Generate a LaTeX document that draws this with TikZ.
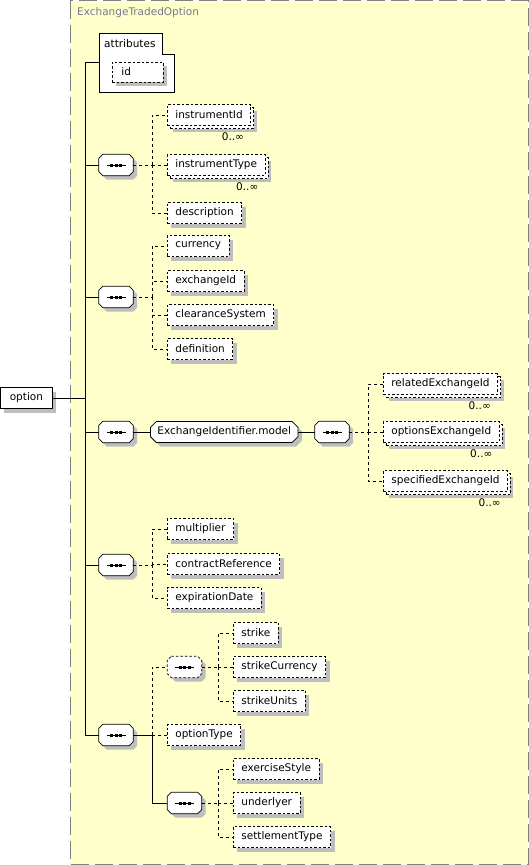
\documentclass[tikz,border=0pt]{standalone}
\usepackage{fontspec}
\setmainfont{DejaVu Sans}
\usetikzlibrary{shapes.misc, shadows, positioning}
\definecolor{bgyellow}{RGB}{255,255,204}
\definecolor{framegray}{RGB}{128,128,128}
\definecolor{titlegray}{RGB}{120,120,140}
\definecolor{shadowgray}{RGB}{190,190,190}

% sequence compositor drawn on an (invisible) seqbox node
\newcommand{\seqdraw}[2][solid]{%
  \fill[shadowgray] ([xshift=8pt,yshift=-4pt]#2.north west) -- ([xshift=0pt,yshift=-4pt]#2.north east)
    -- ([xshift=4pt,yshift=-8pt]#2.north east) -- ([xshift=4pt,yshift=0pt]#2.south east)
    -- ([xshift=0pt,yshift=-4pt]#2.south east) -- ([xshift=8pt,yshift=-4pt]#2.south west)
    -- ([xshift=4pt,yshift=0pt]#2.south west) -- ([xshift=4pt,yshift=-8pt]#2.north west) -- cycle;
  \draw[line width=0.8pt, fill=white, #1] ([xshift=4pt]#2.north west) -- ([xshift=-4pt]#2.north east)
    -- ([yshift=-4pt]#2.north east) -- ([yshift=4pt]#2.south east)
    -- ([xshift=-4pt]#2.south east) -- ([xshift=4pt]#2.south west)
    -- ([yshift=4pt]#2.south west) -- ([yshift=-4pt]#2.north west) -- cycle;
  \draw[line width=1pt] ([xshift=-9.5pt]#2.center) -- ([xshift=9.5pt]#2.center);
  \foreach \d in {-4.5,0,4.5}
    \fill ([xshift=\d pt]#2.center) +(-1.5,-1.5) rectangle +(1.5,1.5);
}

\begin{document}
\begin{tikzpicture}[x=1pt, y=-1pt,
  font=\fontsize{10.5}{12}\selectfont,
  frame/.style={draw=framegray, line width=1pt, dash pattern=on 18pt off 6pt, fill=bgyellow},
  elem/.style={draw, line width=0.8pt, dash pattern=on 2.5pt off 2pt, fill=white, minimum height=21pt, inner xsep=8pt, anchor=west,
    drop shadow={shadow xshift=4pt, shadow yshift=-4pt, fill=shadowgray, opacity=1}},
  elemrep/.style={draw, line width=0.8pt, dash pattern=on 2.5pt off 2pt, fill=white, minimum height=21pt, inner xsep=8pt, anchor=west,
    drop shadow={shadow xshift=6pt, shadow yshift=-6pt, fill=shadowgray, opacity=1},
    copy shadow={shadow xshift=3pt, shadow yshift=-3pt, draw, line width=0.8pt, dash pattern=on 2.5pt off 2pt, fill=white}},
  plain/.style={draw, line width=0.8pt, fill=white, minimum height=21pt, anchor=west,
    drop shadow={shadow xshift=4pt, shadow yshift=-4pt, fill=shadowgray, opacity=1}},
  seqbox/.style={rectangle, minimum width=34pt, minimum height=21pt, inner sep=0pt},
  grp/.style={shape=chamfered rectangle, chamfered rectangle sep=3pt,
    draw, line width=0.8pt, fill=white, inner ysep=2.5pt, inner xsep=4pt, anchor=west,
    drop shadow={shadow xshift=4pt, shadow yshift=-4pt, fill=shadowgray, opacity=1}},
  occ/.style={anchor=north east, inner sep=1pt},
  con/.style={line width=1pt},
  dcon/.style={line width=1pt, dash pattern=on 3pt off 3pt}]

  \useasboundingbox (0,0) rectangle (529,865);

  % type frame
  \draw[frame] (70,0.5) rectangle (528,864);
  \node[anchor=west, inner sep=0pt, text=titlegray] (title) at (77,13) {ExchangeTradedOption};

  % attributes
  \node[inner sep=0pt, anchor=north west, minimum width=75pt, minimum height=59pt] (attr) at (99,33) {};
  \draw[line width=0.8pt, fill=white] (attr.north west) -- ++(63,0) -- ++(0,21) -- ([yshift=-21pt]attr.north east)
    -- (attr.south east) -- (attr.south west) -- cycle;
  \node[anchor=west, inner sep=0pt] (attrlbl) at (104,44) {attributes};
  \node[elem, text width=33pt, inner xsep=9pt, minimum height=20pt] (idbox) at (112,72) {id};
  \coordinate (atin) at (99,62);

  % root and main sequences
  \node[plain, minimum width=52pt] (opt) at (0,398) {option};
  \coordinate (hub) at (85,398);
  \node[seqbox] (q1) at (116,165) {};
  \node[seqbox] (q2) at (116,297) {};
  \node[seqbox] (q3) at (116,432) {};
  \node[seqbox] (q4) at (116,565) {};
  \node[seqbox] (q5) at (116,735) {};
  \node[seqbox] (qm) at (332,432) {};
  \node[seqbox] (qs) at (184.5,667) {};
  \node[seqbox] (qe) at (184.5,803) {};
  \foreach \q in {q1,q2,q3,q4,q5,qm,qe}
    \seqdraw{\q};
  \seqdraw[dash pattern=on 2.5pt off 2pt]{qs};

  \draw[con] (opt.east) -- (hub);
  \draw[con] (hub) |- (atin);
  \foreach \q in {q1,q2,q3,q4,q5}
    \draw[con] (hub) |- (\q.west);

  % instrument
  \node[elemrep] (c11) at (167,115) {instrumentId};
  \node[occ] (c11o) at ([xshift=-6pt, yshift=-6pt]c11.south east) {0..∞};
  \node[elemrep] (c12) at (167,165) {instrumentType};
  \node[occ] (c12o) at ([xshift=-6pt, yshift=-6pt]c12.south east) {0..∞};
  \node[elem] (c13) at (167,213) {description};
  \coordinate (b1) at (152,165);
  \draw[dcon] (q1.east) -- (b1);
  \foreach \c in {c11,c12,c13}
    \draw[dcon] (b1) |- (\c.west);

  % trading
  \node[elem] (c21) at (167,246) {currency};
  \node[elem] (c22) at (167,281) {exchangeId};
  \node[elem] (c23) at (167,315) {clearanceSystem};
  \node[elem] (c24) at (167,349) {definition};
  \coordinate (b2) at (152,297);
  \draw[dcon] (q2.east) -- (b2);
  \foreach \c in {c21,c22,c23,c24}
    \draw[dcon] (b2) |- (\c.west);

  % exchange identifiers
  \node[grp] (eim) at (150,432) {ExchangeIdentifier.model};
  \draw[con] (q3.east) -- (eim.west);
  \draw[con] (eim.east) -- (qm.west);
  \node[elemrep] (m1) at (383,384) {relatedExchangeId};
  \node[occ] (m1o) at ([xshift=-6pt, yshift=-6pt]m1.south east) {0..∞};
  \node[elemrep] (m2) at (383,432) {optionsExchangeId};
  \node[occ] (m2o) at ([xshift=-6pt, yshift=-6pt]m2.south east) {0..∞};
  \node[elemrep] (m3) at (383,481) {specifiedExchangeId};
  \node[occ] (m3o) at ([xshift=-6pt, yshift=-6pt]m3.south east) {0..∞};
  \coordinate (bm) at (368,432);
  \draw[dcon] (qm.east) -- (bm);
  \foreach \c in {m1,m2,m3}
    \draw[dcon] (bm) |- (\c.west);

  % contract
  \node[elem] (c41) at (167,529) {multiplier};
  \node[elem] (c42) at (167,564) {contractReference};
  \node[elem] (c43) at (167,598) {expirationDate};
  \coordinate (b4) at (152,565);
  \draw[dcon] (q4.east) -- (b4);
  \foreach \c in {c41,c42,c43}
    \draw[dcon] (b4) |- (\c.west);

  % option terms
  \node[elem] (otype) at (167,735) {optionType};
  \coordinate (b5) at (152,735);
  \draw[con] (q5.east) -- (b5);
  \draw[dcon] (b5) |- (qs.west);
  \draw[dcon] (b5) -- (otype.west);
  \draw[con] (b5) |- (qe.west);

  \node[elem] (s1) at (233,633) {strike};
  \node[elem] (s2) at (233,667) {strikeCurrency};
  \node[elem] (s3) at (233,701) {strikeUnits};
  \coordinate (bs) at (218,667);
  \draw[dcon] (qs.east) -- (bs);
  \foreach \c in {s1,s2,s3}
    \draw[dcon] (bs) |- (\c.west);

  \node[elem] (e1) at (233,769) {exerciseStyle};
  \node[elem] (e2) at (233,803) {underlyer};
  \node[elem] (e3) at (233,837) {settlementType};
  \coordinate (be) at (218,803);
  \draw[dcon] (qe.east) -- (be);
  \foreach \c in {e1,e2,e3}
    \draw[dcon] (be) |- (\c.west);
\end{tikzpicture}
\end{document}
